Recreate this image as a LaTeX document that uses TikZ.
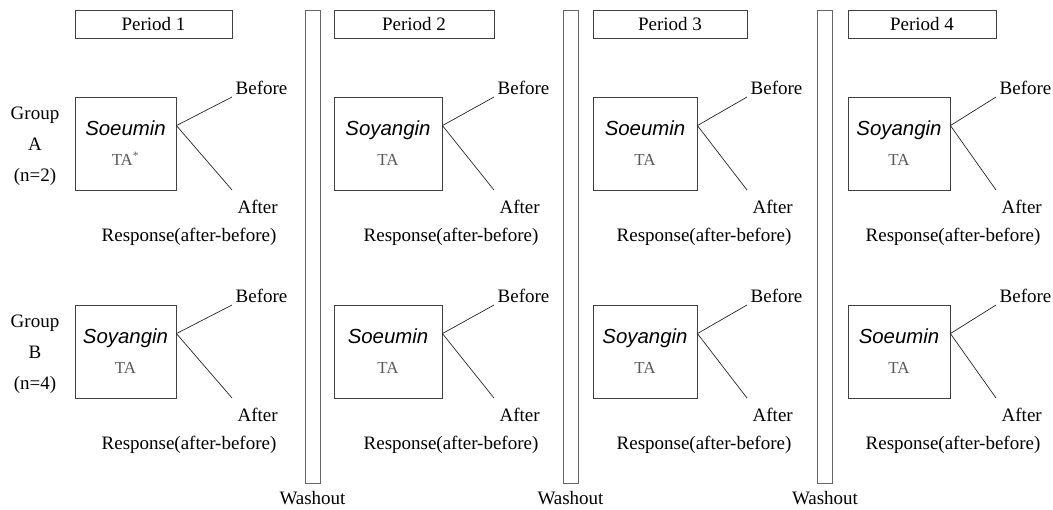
\documentclass[tikz,border=0pt]{standalone}
\usepackage{fontspec}
\setmainfont{Liberation Serif}
\newfontfamily\drugfont{Liberation Sans}
\usepackage{xcolor}
\usetikzlibrary{positioning}

\tikzset{
  periodbox/.style={draw=black!75, line width=0.6pt, minimum width=#1, minimum height=0.7cm, inner sep=0pt, font=\fontsize{13.5}{16}\selectfont},
  drugbox/.style={draw=black!75, line width=0.6pt, minimum width=#1, minimum height=2.325cm, inner sep=0pt, align=center, font=\fontsize{12}{21.3}\selectfont},
  washbar/.style={draw=black!60, line width=0.6pt, minimum width=0.375cm, minimum height=11.825cm, inner sep=0pt},
  lbl/.style={font=\fontsize{13.5}{16}\selectfont, inner sep=1pt},
  link/.style={black!85, line width=0.5pt}
}

\begin{document}
\begin{tikzpicture}[x=0.025cm, y=-0.025cm]
\useasboundingbox (0,0) rectangle (1053,509);

% Washout bars
\foreach \bx [count=\i] in {312.5, 570.5, 825} {
  \node[washbar] (bar\i) at (\bx,246.5) {};
  \node[lbl, below=0.15cm of bar\i] (wash\i) {Washout};
}

% Groups
\node[lbl, align=center, font=\fontsize{13.5}{22}\selectfont] (grpA) at (35,146) {Group\\A\\(n=2)};
\node[lbl, align=center, font=\fontsize{13.5}{22}\selectfont] (grpB) at (35,354) {Group\\B\\(n=4)};

% Periods
\foreach \x/\w/\bw/\n/\da/\db/\ta in {75/157/101/1/Soeumin/Soyangin/{TA\textsuperscript{*}},
    334/160/108/2/Soyangin/Soeumin/TA, 593/154/104/3/Soeumin/Soyangin/TA,
    848/148/102/4/Soyangin/Soeumin/TA} {
  \node[periodbox=\w*0.025cm] (per\n) at (\x+\w/2,24) {Period \n};
  \foreach \g/\dy/\drug/\tb in {A/0/\da/\ta, B/208/\db/TA} {
    \node[drugbox=\bw*0.025cm] (drug\g\n) at (\x+\bw/2,143.5+\dy)
      {{\drugfont\itshape\fontsize{14.5}{21.3}\selectfont \drug}\\{\color{black!65}\tb}};
    \coordinate (fork\g\n) at ([yshift=-0.725cm]drug\g\n.north east);
    \coordinate (top\g\n) at (\x+\w,97+\dy);
    \coordinate (bot\g\n) at (\x+\w,190+\dy);
    \draw[link] (fork\g\n) -- (top\g\n);
    \draw[link] (fork\g\n) -- (bot\g\n);
    \node[lbl, anchor=base west] (bef\g\n) at (\x+\w+2,94+\dy) {Before};
    \node[lbl, anchor=base west] (aft\g\n) at (\x+\w+4,213+\dy) {After};
    \node[lbl, anchor=base east] (resp\g\n) at (\x+\w+46,241+\dy) {Response(after-before)};
  }
}

\end{tikzpicture}
\end{document}
